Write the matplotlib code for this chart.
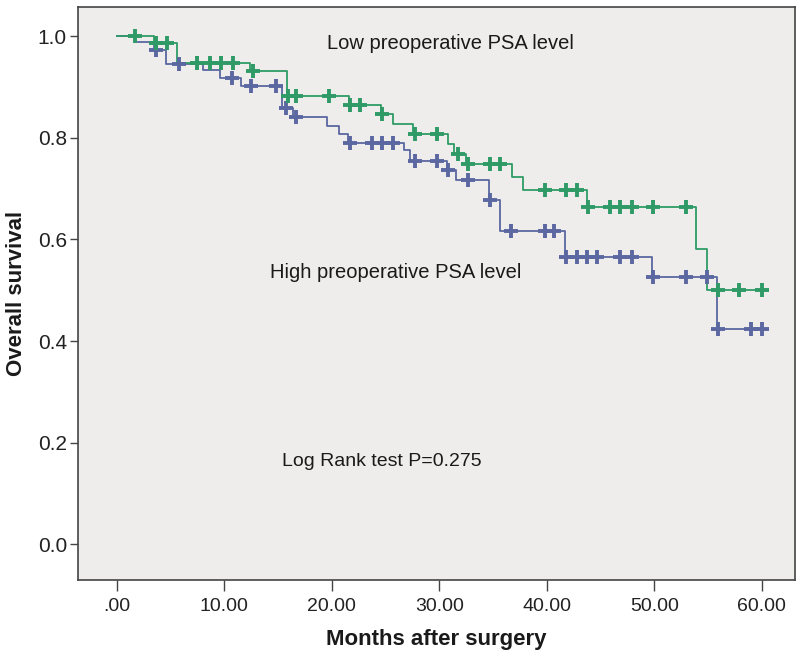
import numpy as np
import matplotlib
matplotlib.use("Agg")
import matplotlib.pyplot as plt

plt.rcParams['font.family'] = ['Liberation Sans', 'DejaVu Sans']

# ---- data ----
low_event_times = [3.5, 5.6, 12.4, 15.8, 21.6, 24.6, 25.7, 27.6, 30.8, 31.4, 32.5,
                   36.8, 37.8, 43.7, 53.9, 54.9]
low_event_surv = [0.987, 0.948, 0.931, 0.882, 0.864, 0.847, 0.827, 0.808, 0.788, 0.769,
                  0.749, 0.722, 0.698, 0.663, 0.582, 0.500]
low_censor = [1.7, 3.7, 4.7, 7.5, 8.7, 9.7, 10.8, 12.7, 15.9, 16.7, 19.7, 21.7, 22.6,
              24.7, 27.7, 29.8, 31.7, 32.7, 34.7, 35.6, 39.8, 41.8, 42.8, 43.8, 45.9,
              46.8, 47.9, 49.9, 52.9, 55.9, 57.9, 60.0]

high_event_times = [1.7, 3.5, 4.6, 8.0, 9.6, 11.6, 15.4, 16.4, 19.6, 20.7, 21.5, 26.7,
                    27.3, 30.7, 31.6, 34.6, 35.6, 41.7, 49.8, 55.8]
high_event_surv = [0.988, 0.973, 0.946, 0.933, 0.917, 0.902, 0.859, 0.840, 0.824, 0.808,
                   0.790, 0.775, 0.755, 0.737, 0.716, 0.678, 0.616, 0.565, 0.526, 0.424]
high_censor = [3.7, 5.8, 10.7, 12.5, 14.8, 15.7, 16.7, 21.7, 23.7, 24.7, 25.7, 27.7,
               29.8, 30.8, 32.7, 34.7, 36.7, 39.8, 40.7, 41.8, 42.8, 43.7, 44.7, 46.8,
               47.9, 49.9, 52.9, 54.9, 55.9, 59.0, 60.0]

x_ticks = [0, 10, 20, 30, 40, 50, 60]
x_tick_labels = ['.00', '10.00', '20.00', '30.00', '40.00', '50.00', '60.00']
y_ticks = [0.0, 0.2, 0.4, 0.6, 0.8, 1.0]
y_tick_labels = ['0.0', '0.2', '0.4', '0.6', '0.8', '1.0']

green = '#2f9a66'
blue = '#5a67a0'

fig = plt.figure(figsize=(8.0, 6.53), dpi=100)
ax = fig.add_axes([0.0975, 0.112, 0.8965, 0.877])
ax.set_facecolor('#eeedeb')


def draw_curve(ev_t, ev_s, cens, color):
    end = max(cens + ev_t)
    t = [0.0] + list(ev_t) + [end]
    s = [1.0] + list(ev_s) + [ev_s[-1]]
    ax.step(t, s, where='post', color=color, lw=1.3, zorder=2)
    ev_t_arr = np.array(ev_t)
    surv_arr = np.array([1.0] + list(ev_s))
    cy = surv_arr[np.searchsorted(ev_t_arr, np.array(cens), side='right')]
    ax.plot(cens, cy, linestyle='none', marker='+', ms=10, mew=2.8, color=color, zorder=3)


draw_curve(high_event_times, high_event_surv, high_censor, blue)
draw_curve(low_event_times, low_event_surv, low_censor, green)

ax.set_xlim(-3.6, 63.1)
ax.set_ylim(-0.07, 1.057)
ax.set_xticks(x_ticks)
ax.set_xticklabels(x_tick_labels)
ax.set_yticks(y_ticks)
ax.set_yticklabels(y_tick_labels)
ax.tick_params(axis='x', direction='out', length=8, width=1, colors='#444444',
               labelsize=14, labelcolor='#222222', pad=5)
ax.tick_params(axis='y', direction='out', length=6, width=1, colors='#444444',
               labelsize=15, labelcolor='#222222', pad=2)
for sp in ax.spines.values():
    sp.set_color('#444444')
    sp.set_linewidth(1.2)

ax.set_xlabel('Months after surgery', fontsize=16, fontweight='bold', color='#1a1a1a',
              labelpad=10)
ax.set_ylabel('Overall survival', fontsize=16, fontweight='bold', color='#1a1a1a',
              labelpad=8)

ax.text(31.0, 0.985, 'Low preoperative PSA level', fontsize=14.5, ha='center',
        va='center', color='#1a1a1a')
ax.text(25.9, 0.535, 'High preoperative PSA level', fontsize=14.5, ha='center',
        va='center', color='#1a1a1a')
ax.text(24.7, 0.163, 'Log Rank test P=0.275', fontsize=14, ha='center',
        va='center', color='#1a1a1a')

fig.savefig('out.png', dpi=100, facecolor='white')
